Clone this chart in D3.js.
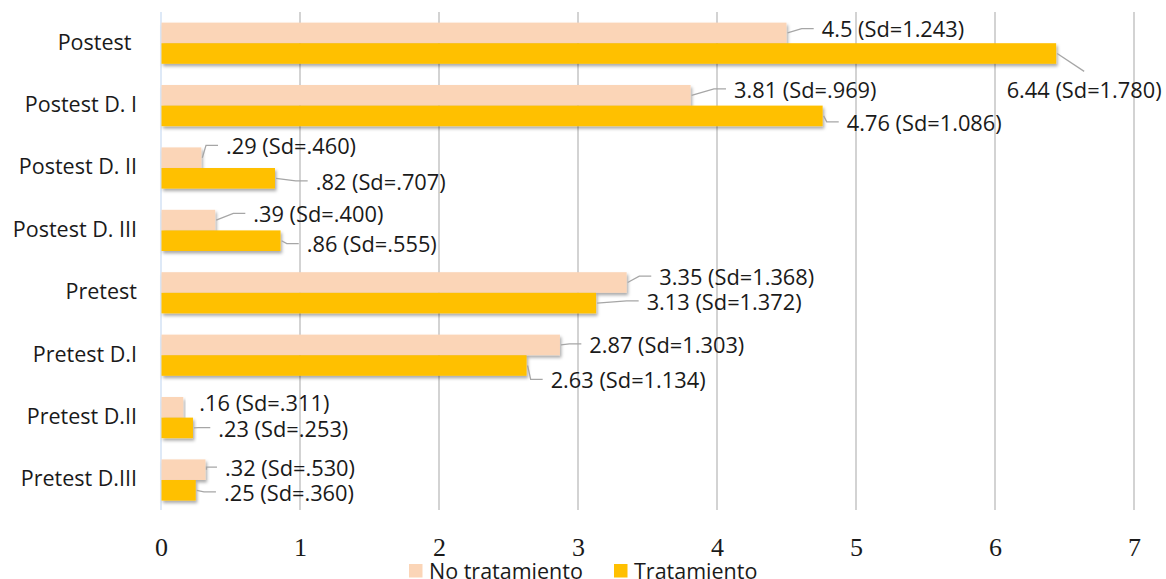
<!DOCTYPE html>
<html>
<head>
<meta charset="utf-8">
<script src="https://cdn.jsdelivr.net/npm/d3@7"></script>
<style>
  html, body { margin: 0; padding: 0; background: #fff; overflow: hidden; }
  svg { display: block; }
  .cat { font-family: "Open Sans", sans-serif; font-size: 21.5px; fill: #1a1a1a; white-space: pre; }
  .val { font-family: "Open Sans", sans-serif; font-size: 21.8px; fill: #1a1a1a; }
  .tick { font-family: "Liberation Serif", serif; font-size: 26px; fill: #1a1a1a; }
  .leg { font-family: "Open Sans", sans-serif; font-size: 21.5px; fill: #1a1a1a; }
</style>
</head>
<body>
<svg id="chart" width="1166" height="579"></svg>
<script>
// Mean scores per test phase and dimension
const categories = ["Postest ", "Postest D. I", "Postest D. II", "Postest D. III",
                    "Pretest", "Pretest D.I", "Pretest D.II", "Pretest D.III"];
const seriesNames = ["No tratamiento", "Tratamiento"];
const noTratamiento = [4.5, 3.81, 0.29, 0.39, 3.35, 2.87, 0.16, 0.32];
const tratamiento   = [6.44, 4.76, 0.82, 0.86, 3.13, 2.63, 0.23, 0.25];
const sdNoTratamiento = [1.243, 0.969, 0.460, 0.400, 1.368, 1.303, 0.311, 0.530];
const sdTratamiento   = [1.780, 1.086, 0.707, 0.555, 1.372, 1.134, 0.253, 0.360];
const tickValues = [0, 1, 2, 3, 4, 5, 6, 7];

const colors = { "No tratamiento": "#fbd5b7", "Tratamiento": "#ffc000" };

// Label placement: [dx from bar end, dy from bar centre, leader style]
const labelLayout = {
  "No tratamiento": [[35.2, -1.3, "side"], [43.4, -3.5, "side"], [24.7, -9.3, "side"], [38.1, -3.7, "side"],
                     [32.6, -3.4, "side"], [29.4, 1.9, "side"], [16.1, -2.2, "none"], [19.5, 0.4, "side"]],
  "Tratamiento":    [[-49.5, 38.9, "above"], [24.1, 9, "side"], [40.7, 5.6, "side"], [26.2, 5.9, "side"],
                     [50.6, 0.8, "side"], [24.1, 16.9, "side"], [25.3, 2.8, "side"], [28.2, 4.6, "side"]]
};

const svg = d3.select("#chart");
const x = d3.scaleLinear().domain([0, 7]).range([161, 1134]);
const y = d3.scaleBand().domain(categories).range([12, 511.2]).paddingInner(0.34).paddingOuter(0.17);
const ySub = d3.scaleBand().domain(seriesNames).range([0, y.bandwidth()]);

const defs = svg.append("defs");
const f = defs.append("filter").attr("id", "shadow").attr("x", "-5%").attr("y", "-30%").attr("width", "115%").attr("height", "180%");
f.append("feDropShadow").attr("dx", 1.5).attr("dy", 2.5).attr("stdDeviation", 1.6)
  .attr("flood-color", "#000").attr("flood-opacity", 0.33);

// Vertical gridlines
const plotTop = 12, plotBottom = 510;
svg.append("g").selectAll("line").data(tickValues.slice(1)).join("line")
  .attr("x1", d => x(d)).attr("x2", d => x(d))
  .attr("y1", plotTop).attr("y2", plotBottom)
  .attr("stroke", "#c4c4c4").attr("stroke-width", 1.5);

// Category axis line
svg.append("line").attr("x1", x(0)).attr("x2", x(0)).attr("y1", plotTop).attr("y2", plotBottom)
  .attr("stroke", "#d3e2f4").attr("stroke-width", 1.5);

// Bars
const rows = categories.map((c, i) => ({
  cat: c,
  items: [
    { series: seriesNames[0], value: noTratamiento[i], sd: sdNoTratamiento[i], layout: labelLayout[seriesNames[0]][i] },
    { series: seriesNames[1], value: tratamiento[i], sd: sdTratamiento[i], layout: labelLayout[seriesNames[1]][i] }
  ]
}));

const groups = svg.append("g").selectAll("g").data(rows).join("g")
  .attr("transform", d => `translate(0,${y(d.cat)})`);

groups.selectAll("rect").data(d => d.items).join("rect")
  .attr("x", x(0) + 0.5)
  .attr("y", d => ySub(d.series))
  .attr("width", d => x(d.value) - x(0) - 0.5)
  .attr("height", ySub.bandwidth())
  .attr("fill", d => colors[d.series])
  .attr("filter", "url(#shadow)");

// Value labels with leader lines
const fmtMean = v => String(v).replace(/^0\./, ".");
const fmtSd = v => d3.format(".3f")(v).replace(/^0\./, ".");

groups.each(function(row) {
  const g = d3.select(this);
  row.items.forEach(it => {
    const [dx, dy, mode] = it.layout;
    const endX = x(it.value);
    const cy = ySub(it.series) + ySub.bandwidth() / 2;
    const lx = endX + dx, ly = cy + dy;
    const text = g.append("text").attr("class", "val")
      .attr("x", lx).attr("y", ly).attr("dy", "0.27em")
      .text(`${fmtMean(it.value)} (Sd=${fmtSd(it.sd)})`);
    if (mode === "side") {
      const hy = ly - 3, hx = lx - 8, ex = Math.max(hx - 12, endX + 1);
      g.append("polyline")
        .attr("points", [[endX + 1, cy], [ex, hy], [hx, hy]].map(p => p.join(",")).join(" "))
        .attr("fill", "none").attr("stroke", "#a6a6a6").attr("stroke-width", 1.3);
    } else if (mode === "above") {
      const w = text.node().getComputedTextLength();
      g.append("line")
        .attr("x1", endX + 1).attr("y1", cy)
        .attr("x2", lx + w / 2).attr("y2", ly - 21)
        .attr("stroke", "#a6a6a6").attr("stroke-width", 1.3);
    }
  });
});

// Category labels
svg.append("g").selectAll("text").data(categories).join("text")
  .attr("class", "cat")
  .attr("x", 137)
  .attr("y", d => y(d) + y.bandwidth() / 2)
  .attr("dy", "0.3em")
  .attr("text-anchor", "end")
  .text(d => d);

// Value axis tick labels
const axis = svg.append("g").attr("transform", "translate(0,556)")
  .call(d3.axisBottom(x).tickValues(tickValues).tickSize(0).tickPadding(0).tickFormat(d3.format("d")));
axis.select(".domain").remove();
axis.selectAll("text").attr("class", "tick").attr("dy", 0).attr("font-family", null).attr("font-size", null).attr("fill", null);

// Legend
const legendItems = [
  { name: seriesNames[0], sx: 409, tx: 429 },
  { name: seriesNames[1], sx: 614, tx: 634 }
];
const leg = svg.append("g");
leg.selectAll("rect").data(legendItems).join("rect")
  .attr("x", d => d.sx).attr("y", 564).attr("width", 13.5).attr("height", 13.5)
  .attr("fill", d => colors[d.name]);
leg.selectAll("text").data(legendItems).join("text")
  .attr("class", "leg")
  .attr("x", d => d.tx).attr("y", 579)
  .text(d => d.name);
</script>
</body>
</html>
